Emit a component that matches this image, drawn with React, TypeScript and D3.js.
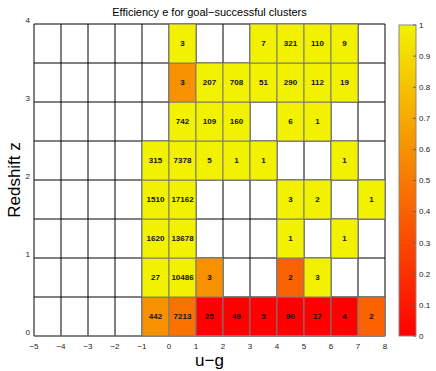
import React, { useEffect, useRef } from 'react';
import * as d3 from 'd3';

// bins
const xBins = [-1, 0, 1, 2, 3, 4, 5, 6, 7];
const zBins = [0, 0.5, 1, 1.5, 2, 2.5, 3, 3.5];

// cluster counts per z bin (row), per u-g bin (column); null = empty
const counts: (number | null)[][] = [
  [442, 7213, 25, 49, 5, 90, 17, 4, 2],
  [27, 10486, 3, null, null, 2, 3, null, null],
  [1620, 13678, null, null, null, 1, null, 1, null],
  [1510, 17162, null, null, null, 3, 2, null, 1],
  [315, 7378, 5, 1, 1, null, null, 1, null],
  [null, 742, 109, 160, null, 6, 1, null, null],
  [null, 3, 207, 708, 51, 290, 112, 19, null],
  [null, 3, null, null, 7, 321, 110, 9, null],
];

// efficiency e per cell
const eff: (number | null)[][] = [
  [0.6, 0.47, 0, 0, 0, 0, 0, 0, 0.4],
  [1, 1, 0.6, null, null, 0.4, 1, null, null],
  [1, 1, null, null, null, 1, null, 1, null],
  [1, 1, null, null, null, 1, 1, null, 1],
  [1, 1, 1, 1, 1, null, null, 1, null],
  [null, 1, 1, 1, null, 1, 1, null, null],
  [null, 0.6, 1, 1, 1, 1, 1, 1, null],
  [null, 1, null, null, 1, 1, 1, 1, null],
];

const xTicks = d3.range(-5, 9);
const yTicks = [0, 1, 2, 3, 4];
const cbTicks = d3.range(0, 11).map((d) => d / 10);

const autumn = (v: number) => d3.interpolateRgb('#ff0000', '#f2f200')(v);

const App = () => {
  const ref = useRef<SVGSVGElement>(null);

  useEffect(() => {
    const svg = d3.select(ref.current);
    svg.selectAll('*').remove();
    const font = 'Liberation Sans, Arial, sans-serif';

    const x = d3.scaleLinear().domain([-5, 8]).range([34, 385]);
    const y = d3.scaleLinear().domain([0, 4]).range([336, 24]);

    const g = svg.append('g');

    // background grid (black lines where empty)
    g.append('rect')
      .attr('x', x(-5)).attr('y', y(4))
      .attr('width', x(8) - x(-5)).attr('height', y(0) - y(4))
      .attr('fill', '#fff');
    g.selectAll('line.gx')
      .data(d3.range(-5, 9))
      .enter().append('line')
      .attr('x1', (d) => x(d)).attr('x2', (d) => x(d))
      .attr('y1', y(0)).attr('y2', y(4))
      .attr('stroke', '#000').attr('stroke-width', 1);
    g.selectAll('line.gy')
      .data(d3.range(0, 4.5, 0.5))
      .enter().append('line')
      .attr('x1', x(-5)).attr('x2', x(8))
      .attr('y1', (d) => y(d)).attr('y2', (d) => y(d))
      .attr('stroke', '#000').attr('stroke-width', 1);

    const cells: { x: number; z: number; c: number; e: number }[] = [];
    zBins.forEach((z, i) =>
      xBins.forEach((xb, j) => {
        const c = counts[i][j];
        const e = eff[i][j];
        if (c != null && e != null) cells.push({ x: xb, z, c, e });
      })
    );

    g.selectAll('rect.cell')
      .data(cells)
      .enter().append('rect')
      .attr('x', (d) => x(d.x)).attr('y', (d) => y(d.z + 0.5))
      .attr('width', x(1) - x(0)).attr('height', y(0) - y(0.5))
      .attr('fill', (d) => autumn(d.e))
      .attr('stroke', '#7a7a7a').attr('stroke-width', 1);

    g.selectAll('text.cnt')
      .data(cells)
      .enter().append('text')
      .attr('x', (d) => x(d.x + 0.5)).attr('y', (d) => y(d.z + 0.25))
      .attr('dy', '0.35em')
      .attr('text-anchor', 'middle')
      .attr('font-family', font).attr('font-size', 8).attr('font-weight', 'bold')
      .attr('fill', '#111')
      .text((d) => d.c);

    // bottom axis line
    g.append('line')
      .attr('x1', x(-5)).attr('x2', x(8)).attr('y1', y(0)).attr('y2', y(0))
      .attr('stroke', '#888').attr('stroke-width', 1.2);

    // tick labels
    g.selectAll('text.xt')
      .data(xTicks)
      .enter().append('text')
      .attr('x', (d) => x(d)).attr('y', 349)
      .attr('text-anchor', 'middle')
      .attr('font-family', font).attr('font-size', 8).attr('fill', '#222')
      .text((d) => (d < 0 ? '\u2212' + Math.abs(d) : d));
    g.selectAll('text.yt')
      .data(yTicks)
      .enter().append('text')
      .attr('x', 30).attr('y', (d) => y(d) - 1)
      .attr('text-anchor', 'end')
      .attr('font-family', font).attr('font-size', 8).attr('fill', '#222')
      .text((d) => d);

    // axis labels & title
    svg.append('text')
      .attr('x', x(1.5)).attr('y', 366)
      .attr('text-anchor', 'middle')
      .attr('font-family', font).attr('font-size', 17)
      .text('u\u2212g');
    svg.append('text')
      .attr('transform', `translate(20,${y(2)}) rotate(-90)`)
      .attr('text-anchor', 'middle')
      .attr('font-family', font).attr('font-size', 17)
      .text('Redshift z');
    svg.append('text')
      .attr('x', x(1.5)).attr('y', 16)
      .attr('text-anchor', 'middle')
      .attr('font-family', font).attr('font-size', 11)
      .text('Efficiency e for goal\u2212successful clusters');

    // colorbar
    const cb = d3.scaleLinear().domain([0, 1]).range([336, 25]);
    const cbX = 399, cbW = 17;
    const defs = svg.append('defs');
    const grad = defs.append('linearGradient')
      .attr('id', 'cbg').attr('x1', 0).attr('x2', 0).attr('y1', 1).attr('y2', 0);
    d3.range(0, 1.01, 0.1).forEach((v) => {
      grad.append('stop').attr('offset', v).attr('stop-color', autumn(v));
    });
    svg.append('rect')
      .attr('x', cbX).attr('y', cb(1))
      .attr('width', cbW).attr('height', cb(0) - cb(1))
      .attr('fill', 'url(#cbg)')
      .attr('stroke', '#888').attr('stroke-width', 1);
    svg.selectAll('line.cbt')
      .data(cbTicks)
      .enter().append('line')
      .attr('x1', cbX + cbW - 3).attr('x2', cbX + cbW)
      .attr('y1', (d) => cb(d)).attr('y2', (d) => cb(d))
      .attr('stroke', '#666');
    svg.selectAll('text.cbl')
      .data(cbTicks)
      .enter().append('text')
      .attr('x', cbX + cbW + 3).attr('y', (d) => cb(d))
      .attr('dy', '0.35em')
      .attr('font-family', font).attr('font-size', 8).attr('fill', '#222')
      .text((d) => d);
  }, []);

  return (
    <svg
      ref={ref}
      width={436}
      height={371}
      style={{ position: 'absolute', left: 0, top: 0, background: '#fff' }}
    ></svg>
  );
};

export default App;
